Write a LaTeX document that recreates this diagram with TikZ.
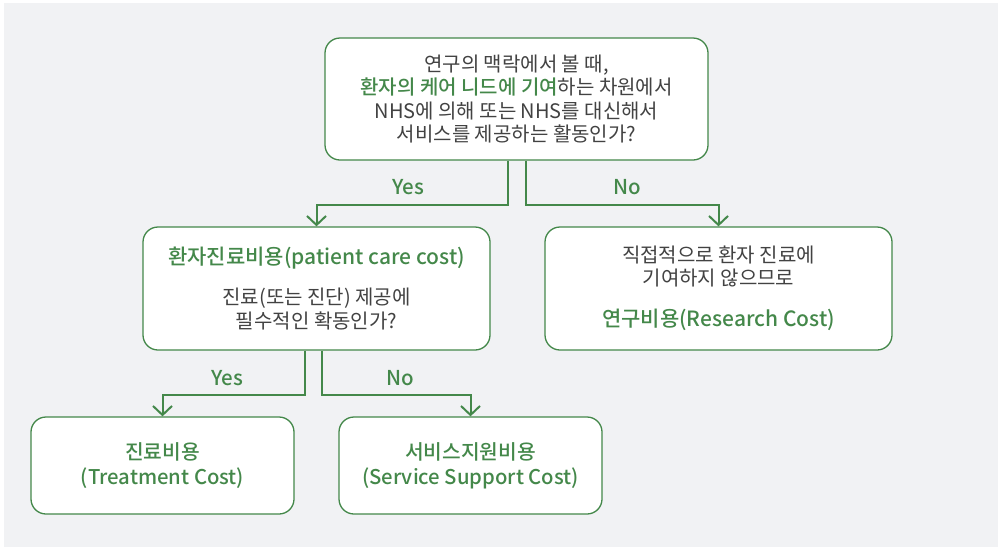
\documentclass[tikz,border=0pt]{standalone}
\usepackage{fontspec}
\setmainfont{Noto Sans CJK KR}[BoldFont={Noto Sans CJK KR Medium}]
\usetikzlibrary{arrows.meta}

\definecolor{leaf}{HTML}{44884A}
\definecolor{ink}{HTML}{424242}
\definecolor{paper}{HTML}{F1F2F4}

\tikzset{
  box/.style={draw=leaf, line width=1.3pt, fill=white, rounded corners=15pt,
              inner sep=0pt, align=center, text=ink},
  flow/.style={draw=leaf, line width=2pt,
               -{Straight Barb[length=9pt,width=19pt,line width=2pt]}},
  answer/.style={text=leaf, font=\fontsize{20.5}{22}\selectfont\bfseries},
  body/.style={font=\fontsize{20}{23.3}\selectfont},
  costname/.style={font=\fontsize{20.3}{25}\selectfont\bfseries, text=leaf},
}
\newcommand{\hl}[1]{{\color{leaf}\bfseries #1}}
\newcommand{\hlbig}[1]{{\color{leaf}\fontsize{21}{23.3}\selectfont\bfseries #1}}

\begin{document}
\begin{tikzpicture}[x=1pt, y=-1pt]
  \useasboundingbox (0,0) rectangle (998,547);
  \fill[white] (0,0) rectangle (998,547);
  \fill[paper] (4,3) rectangle (998,547);

  % question about the NHS service
  \node[box, body, minimum width=383pt, minimum height=122pt] (q1) at (516.5,99)
    {연구의 맥락에서 볼 때,\\
     \hl{환자의 케어 니드에 기여}하는 차원에서\\
     NHS에 의해 또는 NHS를 대신해서\\
     서비스를 제공하는 활동인가?};

  % patient care cost
  \node[box, body, minimum width=347pt, minimum height=123pt] (care) at (316.5,288.5)
    {\hlbig{환자진료비용(patient care cost)}\\[16.5pt]
     진료(또는 진단) 제공에\\
     필수적인 확동인가?};

  % research cost
  \node[box, body, minimum width=347pt, minimum height=123pt] (research) at (718.5,288.5)
    {직접적으로 환자 진료에\\
     기여하지 않으므로\\[17.5pt]
     \hlbig{연구비용(Research Cost)}};

  % final categories
  \node[box, costname, minimum width=263pt, minimum height=97pt] (treat) at (162.5,465.5)
    {진료비용\\(Treatment Cost)};
  \node[box, costname, minimum width=263pt, minimum height=97pt] (support) at (470.5,465.5)
    {서비스지원비용\\(Service Support Cost)};

  % connectors
  \draw[flow] ([xshift=-8.5pt]q1.south) -- ++(0,44) -| (care.north);
  \draw[flow] ([xshift=9.5pt]q1.south) -- ++(0,44) -| (research.north);
  \draw[flow] ([xshift=-11.5pt]care.south) -- ++(0,44) -| (treat.north);
  \draw[flow] ([xshift=5.5pt]care.south) -- ++(0,44) -| (support.north);

  % answer labels
  \node[answer] (yes1) at (408,187) {Yes};
  \node[answer] (no1) at (627,187) {No};
  \node[answer] (yes2) at (227,378) {Yes};
  \node[answer] (no2) at (400,378) {No};
\end{tikzpicture}
\end{document}
